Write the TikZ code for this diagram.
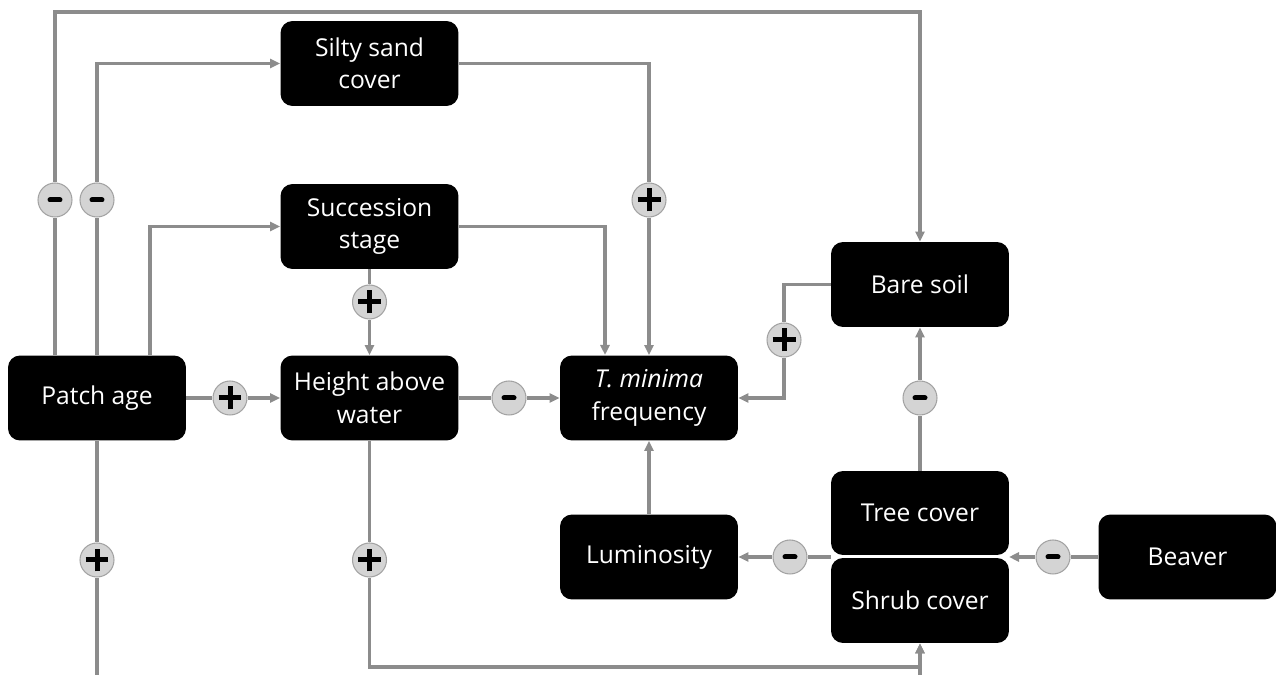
\documentclass[tikz,border=0pt]{standalone}
\usepackage{fontspec}
\setmainfont{Open Sans}
\usetikzlibrary{arrows.meta,positioning,calc}
\definecolor{linkgray}{HTML}{8C8C8C}
\definecolor{signfill}{HTML}{D4D4D4}
\definecolor{signedge}{HTML}{A3A3A3}

\begin{document}
\begin{tikzpicture}[
    x=0.02cm, y=-0.02cm,
    box/.style={fill=black, rounded corners=0.24cm, minimum width=3.56cm, minimum height=1.7cm, text=white, align=center, inner sep=0pt, font=\fontsize{14}{18.5}\selectfont},
    link/.style={draw=linkgray, line width=0.065cm},
    arrow/.style={link, -{Triangle[length=2mm,width=1.8mm]}},
    sign/.style={circle, draw=signedge, fill=signfill, line width=0.6pt, minimum size=0.68cm, inner sep=0pt},
    plus/.style={sign, path picture={
        \draw[black, line width=0.1cm] ([xshift=-0.23cm]path picture bounding box.center) -- ([xshift=0.23cm]path picture bounding box.center);
        \draw[black, line width=0.1cm] ([yshift=-0.23cm]path picture bounding box.center) -- ([yshift=0.23cm]path picture bounding box.center);}},
    minus/.style={sign, path picture={
        \draw[black, line width=0.1cm, line cap=round] ([xshift=-0.1cm]path picture bounding box.center) -- ([xshift=0.1cm]path picture bounding box.center);}}
]
\clip (0,0) rectangle (1276,675);

% Boxes
\node[box] (age) at (97,398) {Patch age};
\node[box] (silty) at (369.5,63.5) {Silty sand\\cover};
\node[box] (succ) at (369.5,226.5) {Succession\\stage};
\node[box] (height) at (369.5,398) {Height above\\water};
\node[box] (tmin) at (649,398) {\textit{T. minima}\\frequency};
\node[box] (bare) at (920,284.5) {Bare soil};
\node[box, minimum height=1.68cm] (tree) at (920,513) {Tree cover};
\node[box] (shrub) at (920,600.5) {Shrub cover};
\node[box] (lum) at (649,557) {Luminosity};
\node[box] (beaver) at (1187.5,557) {Beaver};

% Signs
\node[minus] (m1) at (55,200) {};
\node[minus] (m2) at (97,200) {};
\node[plus] (p1) at (369.5,302) {};
\node[plus] (p2) at (649,200) {};
\node[plus] (p3) at (230,398) {};
\node[minus] (m3) at (509,398) {};
\node[plus] (p4) at (784,340) {};
\node[minus] (m4) at (920,398) {};
\node[minus] (m5) at (790,557) {};
\node[minus] (m6) at (1053,557) {};
\node[plus] (p5) at (97,560) {};
\node[plus] (p6) at (369.5,560) {};

% Bends
\coordinate (toprun) at (55,12);
\coordinate (agebend) at (150,0);
\coordinate (succin) at (605,355);
\coordinate (canopy) at (831,557);
\coordinate (canopyR) at (1009,557);
\coordinate (lowrun) at (369.5,667);

% Patch age links
\draw[link] (age.north -| m1) -- (m1);
\draw[arrow] (m1) -- (toprun) -| (bare.north);
\draw[link] (age.north) -- (m2);
\draw[arrow] (m2) |- (silty.west);
\draw[arrow] (age.north -| agebend) |- (succ.west);
\draw[link] (age.east) -- (p3);
\draw[arrow] (p3) -- (height.west);
\draw[link] (age.south) -- (p5);
\draw[arrow] (p5) -- ++(0,125) -| (shrub.south);

% Into T. minima
\draw[link] (silty.east) -| (p2);
\draw[arrow] (p2) -- (tmin.north);
\draw[arrow] (succ.east) -| (succin);
\draw[link] (succ.south) -- (p1);
\draw[arrow] (p1) -- (height.north);
\draw[link] (height.east) -- (m3);
\draw[arrow] (m3) -- (tmin.west);
\draw[link] (bare.west) -| (p4);
\draw[arrow] (p4) |- (tmin.east);
\draw[arrow] (lum.north) -- (tmin.south);

% Height to shrubs
\draw[link] (height.south) -- (p6);
\draw[arrow] (p6) -- (lowrun) -| (shrub.south);

% Canopy links
\draw[link] (tree.north) -- (m4);
\draw[arrow] (m4) -- (bare.south);
\draw[link] (canopy) -- (m5);
\draw[arrow] (m5) -- (lum.east);
\draw[link] (beaver.west) -- (m6);
\draw[arrow] (m6) -- (canopyR);

\end{tikzpicture}
\end{document}
